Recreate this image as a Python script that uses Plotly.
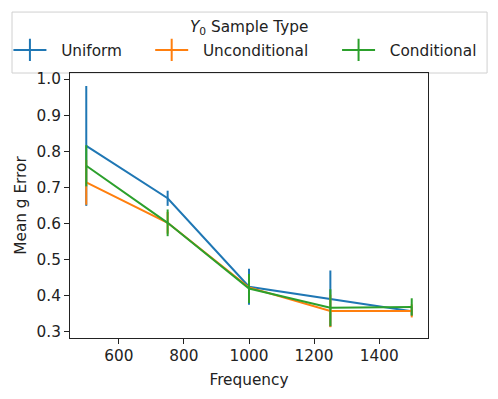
import plotly.graph_objects as go

freq = [500, 750, 1000, 1250, 1500]

uniform = [0.815, 0.670, 0.425, 0.392, 0.357]
uniform_err = [0.166, 0.021, 0.050, 0.078, 0.012]

unconditional = [0.714, 0.602, 0.423, 0.358, 0.358]
unconditional_err = [0.062, 0.030, 0.035, 0.045, 0.018]

conditional = [0.760, 0.602, 0.420, 0.367, 0.369]
conditional_err = [0.057, 0.037, 0.040, 0.051, 0.024]

series = [
    ("Uniform", uniform, uniform_err, "#1f77b4"),
    ("Unconditional", unconditional, unconditional_err, "#ff7f0e"),
    ("Conditional", conditional, conditional_err, "#2ca02c"),
]

# where each legend entry sits (paper x) - one small legend per entry
legend_ids = ["legend", "legend2", "legend3"]
legend_x = [-0.172, 0.224, 0.746]

FS = 15.3

fig = go.Figure()

for name, y, err, color in series:
    fig.add_trace(go.Scatter(
        x=freq, y=y, mode="lines", name=name, showlegend=False,
        line=dict(color=color, width=2),
        error_y=dict(type="data", array=err, visible=True, color=color, thickness=2, width=0),
    ))

# legend entries drawn like matplotlib errorbar handles
for (name, y, err, color), lid in zip(series, legend_ids):
    fig.add_trace(go.Scatter(
        x=[None], y=[None], mode="lines+markers", name="\u00a0\u00a0" + name, legend=lid,
        line=dict(color=color, width=2),
        marker=dict(symbol="line-ns-open", size=16, color=color, line=dict(color=color, width=2)),
    ))

axis_common = dict(
    showline=True, linecolor="#222", linewidth=1, mirror=True,
    ticks="outside", ticklen=5, tickcolor="#222", tickwidth=1,
    showgrid=False, zeroline=False,
    tickfont=dict(size=FS, color="#222"),
    title_font=dict(size=FS, color="#222"),
)

fig.update_xaxes(range=[450, 1550], tickvals=[600, 800, 1000, 1200, 1400],
                 title_text="Frequency", title_standoff=9, ticklabelstandoff=-1, **axis_common)
fig.update_yaxes(range=[0.283, 1.017], tickvals=[0.3, 0.4, 0.5, 0.6, 0.7, 0.8, 0.9, 1.0],
                 tickformat=".1f", title_text="Mean g Error", title_standoff=6, **axis_common)

leg_common = dict(y=1.087, xanchor="left", yanchor="middle", bgcolor="rgba(0,0,0,0)",
                  borderwidth=0, font=dict(size=FS, color="#222"), itemwidth=33)
layout_legends = {lid: dict(x=lx, **leg_common) for lid, lx in zip(legend_ids, legend_x)}

# page body has an 8px margin, so the figure is 8px smaller on each side
fig.update_layout(
    width=490, height=391,
    margin=dict(l=62, r=70, t=65, b=61, autoexpand=False),
    paper_bgcolor="white", plot_bgcolor="white",
    font=dict(family="DejaVu Sans", size=FS, color="#222"),
    **layout_legends,
)

# legend frame and title
fig.add_shape(type="rect", xref="paper", yref="paper", x0=-0.162, x1=1.165, y0=1.0, y1=1.23,
              line=dict(color="#d0d0d0", width=1), fillcolor="white", layer="below")
fig.add_annotation(text="<i>Y</i><sub>0</sub> Sample Type", xref="paper", yref="paper",
                   x=0.501, y=1.17, xanchor="center", yanchor="middle", showarrow=False,
                   font=dict(size=FS, color="#222"))

fig.write_html("out.html")
